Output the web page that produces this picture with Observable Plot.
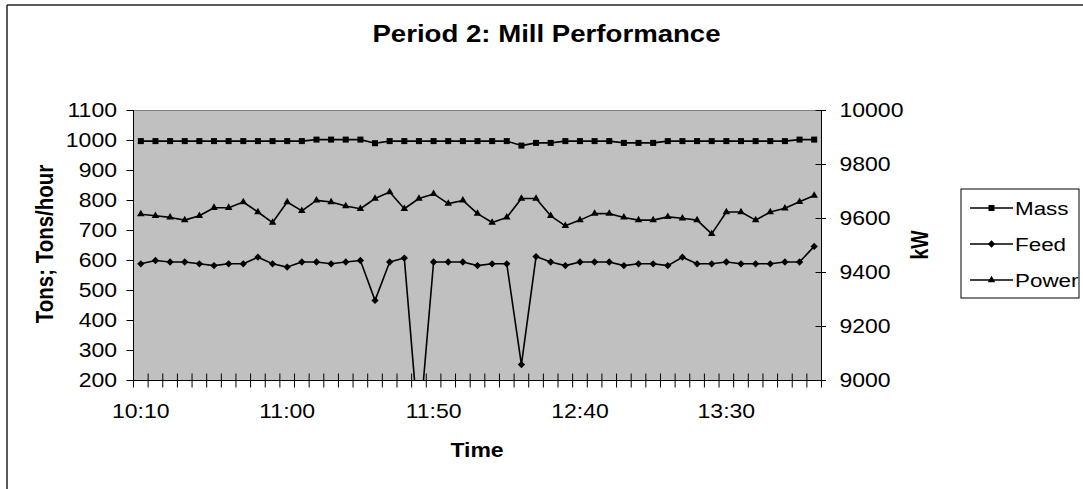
<!DOCTYPE html>
<html><head><meta charset="utf-8">
<script src="https://cdn.jsdelivr.net/npm/d3@7"></script>
<script src="https://cdn.jsdelivr.net/npm/@observablehq/plot@0.6"></script>
<style>body{margin:0;background:#fff}</style>
</head><body><div id="chart"></div>
<script>
// ---- data ----
const times = ["10:10","10:15","10:20","10:25","10:30","10:35","10:40","10:45","10:50","10:55",
  "11:00","11:05","11:10","11:15","11:20","11:25","11:30","11:35","11:40","11:45",
  "11:50","11:55","12:00","12:05","12:10","12:15","12:20","12:25","12:30","12:35",
  "12:40","12:45","12:50","12:55","13:00","13:05","13:10","13:15","13:20","13:25",
  "13:30","13:35","13:40","13:45","13:50","13:55","14:00"];
const mass = [998,998,998,998,998,998,998,998,998,998,998,998,1003,1003,1003,1003,991,998,998,998,
  998,998,998,998,998,998,983,992,992,998,998,998,998,992,992,992,998,998,998,998,
  998,998,998,998,998,1003,1003];
const feed = [589,600,595,595,589,583,589,589,611,589,578,595,595,589,595,600,467,595,608,25,
  595,595,595,583,589,589,253,613,595,583,595,595,595,583,589,589,583,611,589,589,
  595,589,589,589,595,595,647];
const power = [9616,9610,9604,9594,9610,9640,9640,9661,9624,9585,9661,9628,9667,9661,9646,9636,9674,9698,9636,9674,
  9691,9655,9667,9618,9585,9604,9674,9674,9610,9573,9594,9618,9618,9604,9594,9594,9606,9601,9594,9543,
  9624,9624,9594,9624,9638,9662,9685];
const leftTicks = [200,300,400,500,600,700,800,900,1000,1100];
const kwTicks = [9000,9200,9400,9600,9800,10000];
const labelTimes = ["10:10","11:00","11:50","12:40","13:30"];
const seriesNames = ["Mass","Feed","Power"];
const titleText = "Period 2: Mill Performance";
const yTitle = "Tons; Tons/hour";
const y2Title = "kW";
const xTitle = "Time";

// ---- layout ----
const W = 1083, H = 489, ML = 133, MR = 262, MT = 110, MB = 109;
const FW = W - ML - MR, FH = H - MT - MB;
const SX = 1.18; // horizontal stretch of the original picture
const FONT = "Arial, 'Liberation Sans', sans-serif";
const kwToLeft = k => 200 + (k - 9000) * 0.9;
const leftToKw = v => Math.round(9000 + (v - 200) / 0.9);

const n = times.length;
const massData = times.map((t, i) => ({i, v: mass[i]}));
const feedData = times.map((t, i) => ({i, v: feed[i]}));
const powerData = times.map((t, i) => ({i, v: kwToLeft(power[i])}));
const bounds = d3.range(n + 1).map(i => i - 0.5);
const labelIdx = labelTimes.map(l => times.indexOf(l));
const kwPos = kwTicks.map(kwToLeft);

// pixel lengths expressed in data units (for tick marks crossing the axes)
const pxY = p => p * 900 / FH;
const pxX = p => p * n / FW;

const lineOpts = {x: "i", y: "v", stroke: "black", strokeWidth: 1.6, clip: true};
const dotOpts = (sym, r) => ({x: "i", y: "v", symbol: () => sym, r, fill: "black", stroke: "none", clip: true});

const plot = Plot.plot({
  width: W, height: H,
  marginLeft: ML, marginRight: MR, marginTop: MT, marginBottom: MB,
  style: `font-family:${FONT};font-size:19.5px;background:white;overflow:visible;`,
  x: {type: "linear", domain: [-0.5, n - 0.5]},
  y: {type: "linear", domain: [200, 1100]},
  symbol: {type: "identity"},
  marks: [
    Plot.frame({fill: "#c0c0c0", stroke: "#808080"}),
    // category tick marks crossing the x axis
    Plot.link(bounds, {x1: d => d, x2: d => d, y1: () => 200 - pxY(7), y2: () => 200 + pxY(7), stroke: "black", strokeWidth: 1}),
    // secondary-axis tick marks crossing the right axis
    Plot.link(kwPos, {x1: () => n - 0.5 - pxX(6), x2: () => n - 0.5 + pxX(4.5), y1: d => d, y2: d => d, stroke: "black", strokeWidth: 1}),
    Plot.axisY(kwPos, {anchor: "right", tickSize: 0, tickPadding: 18, tickFormat: v => String(leftToKw(v)), label: null, fill: "black"}),
    Plot.axisY(leftTicks, {anchor: "left", tickSize: 6.5, tickPadding: 10, tickFormat: d => String(d), label: null, stroke: "black", fill: "black"}),
    Plot.axisX(labelIdx, {anchor: "bottom", tickSize: 0, tickPadding: 24, tickFormat: i => times[i], label: null, fill: "black"}),
    Plot.ruleY([200], {stroke: "black"}),
    Plot.ruleX([-0.5], {stroke: "black"}),
    Plot.ruleX([n - 0.5], {stroke: "black"}),
    Plot.line(massData, lineOpts),
    Plot.line(feedData, lineOpts),
    Plot.line(powerData, lineOpts),
    Plot.dot(massData, dotOpts("square", 3.4)),
    Plot.dot(feedData, dotOpts("diamond2", 3.3)),
    Plot.dot(powerData, dotOpts("triangle", 2.8))
  ]
});

const svg = d3.select(plot);
// outer chart border (top and left edges visible)
svg.append("line").attr("x1", 7).attr("y1", 5).attr("x2", W).attr("y2", 5).attr("stroke", "#222").attr("stroke-width", 1.5);
svg.append("line").attr("x1", 7).attr("y1", 5).attr("x2", 7).attr("y2", H).attr("stroke", "#222").attr("stroke-width", 1.5);

// title and axis titles
svg.append("text").attr("transform", "translate(546.5,42)").attr("text-anchor", "middle")
  .attr("font-weight", "bold").attr("font-size", "23.4px").attr("fill", "black").text(titleText);
svg.append("text").attr("transform", `translate(${ML + FW / 2},457)`).attr("text-anchor", "middle")
  .attr("font-weight", "bold").attr("fill", "black").text(xTitle);
svg.append("text").attr("transform", `translate(53,244) rotate(-90)`).attr("text-anchor", "middle")
  .attr("font-weight", "bold").attr("font-size", "20.5px").attr("fill", "black").text(yTitle);
svg.append("text").attr("transform", `translate(928,245) rotate(-90)`).attr("text-anchor", "middle")
  .attr("font-weight", "bold").attr("fill", "black").text(y2Title);

// legend
const lg = svg.append("g");
lg.append("rect").attr("x", 961).attr("y", 189).attr("width", 118).attr("height", 109)
  .attr("fill", "white").attr("stroke", "black").attr("stroke-width", 1);
const symSizes = [Math.PI * 3.4 * 3.4, Math.PI * 3.3 * 3.3, Math.PI * 2.8 * 2.8];
const symTypes = [d3.symbolSquare, d3.symbolDiamond2, d3.symbolTriangle];
const rowsY = [208, 244, 280];
seriesNames.forEach((name, k) => {
  const y = rowsY[k];
  lg.append("line").attr("x1", 970).attr("x2", 1013).attr("y1", y).attr("y2", y).attr("stroke", "black").attr("stroke-width", 1.6);
  lg.append("path").attr("d", d3.symbol(symTypes[k], symSizes[k])()).attr("transform", `translate(991.5,${y})`).attr("fill", "black");
  lg.append("text").attr("transform", `translate(1015,${y})`).attr("dy", "0.35em").attr("text-anchor", "start")
    .attr("font-size", "19px").attr("fill", "black").text(name);
});

// the original picture is horizontally stretched: apply it to every text
svg.selectAll("text").each(function () {
  const t = this.getAttribute("transform");
  if (t) {
    if (t.includes("rotate")) this.setAttribute("transform", t.replace("rotate", `scale(${SX},1) rotate`));
    else this.setAttribute("transform", `${t} scale(${SX},1)`);
  } else {
    const x = +(this.getAttribute("x") || 0);
    this.setAttribute("transform", `translate(${x},0) scale(${SX},1) translate(${-x},0)`);
  }
});

document.getElementById("chart").appendChild(plot);
</script>
</body></html>
